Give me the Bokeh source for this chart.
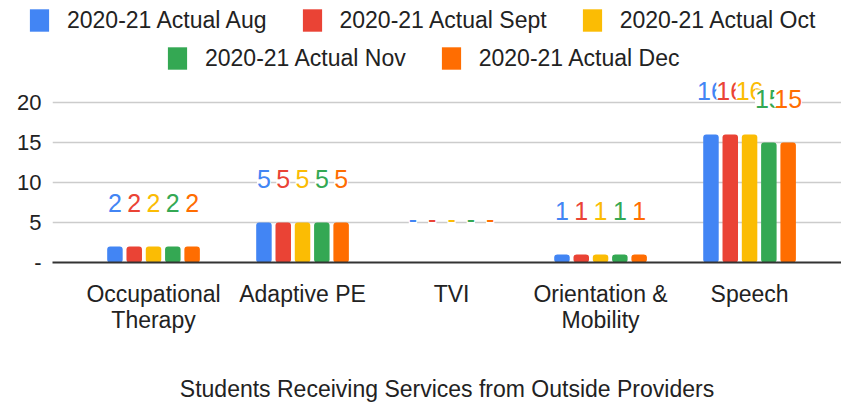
from bokeh.plotting import figure
from bokeh.models import (ColumnDataSource, Range1d, FixedTicker, Legend, LegendItem,
                          LabelSet)
from bokeh.core.properties import value
from bokeh.transform import dodge
from bokeh.embed import file_html
from bokeh.resources import INLINE

categories = ["Occupational\nTherapy", "Adaptive PE", "TVI", "Orientation &\nMobility", "Speech"]
series_names = ["2020-21 Actual Aug", "2020-21 Actual Sept", "2020-21 Actual Oct",
                "2020-21 Actual Nov", "2020-21 Actual Dec"]
aug = [2, 5, 0, 1, 16]
sept = [2, 5, 0, 1, 16]
octo = [2, 5, 0, 1, 16]
nov = [2, 5, 0, 1, 15]
dec = [2, 5, 0, 1, 15]
y_ticks = [0, 5, 10, 15, 20]
y_tick_labels = ["-", "5", "10", "15", "20"]
title = "Students Receiving Services from Outside Providers"

colors = ["#4285F4", "#EA4335", "#FBBC04", "#34A853", "#FF6D01"]
series = [aug, sept, octo, nov, dec]
FONT = "Liberation Sans"
TXT = "#222222"

xs = list(range(len(categories)))

# ---------------- main chart ----------------
p = figure(frame_width=789, frame_height=182, output_backend="svg", toolbar_location=None,
           x_range=Range1d(-0.678, 4.617), y_range=Range1d(0, 22.75),
           min_border_left=52, min_border_right=0, min_border_top=0, min_border_bottom=0)
p.outline_line_color = None
p.background_fill_color = "white"

step = 0.1295
width = 0.104
for i, (name, vals, c) in enumerate(zip(series_names, series, colors)):
    src = ColumnDataSource(dict(x=xs, top=vals,
                                lbl=[("-" if v == 0 else str(v)) for v in vals]))
    off = (i - 2) * step
    p.vbar(x=dodge("x", off, range=p.x_range), top="top", width=width, source=src,
           color=c, line_color=None, border_radius=3)
    labels = LabelSet(x=dodge("x", off, range=p.x_range), y="top", text="lbl", source=src,
                      y_offset=44, text_align="center", text_baseline="middle",
                      text_color=c, text_font=value(FONT), text_font_size="25px",
                      background_fill_color="white")
    p.add_layout(labels)

p.yaxis.ticker = FixedTicker(ticks=y_ticks)
p.yaxis.major_label_overrides = {t: l for t, l in zip(y_ticks, y_tick_labels)}
p.yaxis.axis_line_color = None
p.yaxis.major_tick_line_color = None
p.yaxis.minor_tick_line_color = None
p.yaxis.major_label_standoff = 5
p.yaxis.major_label_text_font = FONT
p.yaxis.major_label_text_font_size = "22px"
p.yaxis.major_label_text_color = TXT

p.xaxis.ticker = FixedTicker(ticks=xs)
p.xaxis.major_label_overrides = {x: c for x, c in zip(xs, categories)}
p.xaxis.axis_line_color = "#333333"
p.xaxis.axis_line_width = 2
p.xaxis.major_tick_line_color = None
p.xaxis.minor_tick_line_color = None
p.xaxis.major_label_standoff = 12
p.xaxis.major_label_text_font = FONT
p.xaxis.major_label_text_font_size = "23px"
p.xaxis.major_label_text_line_height = 1.0
p.xaxis.major_label_text_color = TXT
p.xaxis.axis_label = title
p.xaxis.axis_label_standoff = 40
p.xaxis.axis_label_text_font = FONT
p.xaxis.axis_label_text_font_size = "23px"
p.xaxis.axis_label_text_font_style = "normal"
p.xaxis.axis_label_text_color = TXT

p.xgrid.grid_line_color = None
p.ygrid.ticker = FixedTicker(ticks=[5, 10, 15, 20])
p.ygrid.grid_line_color = "#cccccc"
p.ygrid.grid_line_width = 1.5

# ---------------- legend strip (separate root, so it is not frame-aligned) ----------------
# the swatch renderers lie outside this strip's ranges, so only the legend shows
lf = figure(width=841, height=80, output_backend="svg", toolbar_location=None,
            x_range=Range1d(100, 101), y_range=Range1d(100, 101),
            x_axis_type=None, y_axis_type=None,
            min_border_left=0, min_border_right=0, min_border_top=0, min_border_bottom=0)
lf.outline_line_color = None
lf.grid.visible = False
swatches = [lf.vbar(x=xs, top=vals, width=0.1, color=c, line_color=None, border_radius=3)
            for vals, c in zip(series, colors)]

def make_legend(idx, loc):
    return Legend(items=[LegendItem(label=series_names[i], renderers=[swatches[i]]) for i in idx],
                  orientation="horizontal", location=loc,
                  label_text_font=FONT, label_text_font_size="23px", label_text_color=TXT,
                  glyph_width=24, glyph_height=28, label_standoff=16, spacing=33,
                  padding=2, margin=0, border_line_alpha=0, background_fill_alpha=0,
                  label_height=28)

lf.add_layout(make_legend([0, 1, 2], (25, 44)))
lf.add_layout(make_legend([3, 4], (163, 6)))

open("out.html", "w").write(file_html([lf, p], INLINE))
